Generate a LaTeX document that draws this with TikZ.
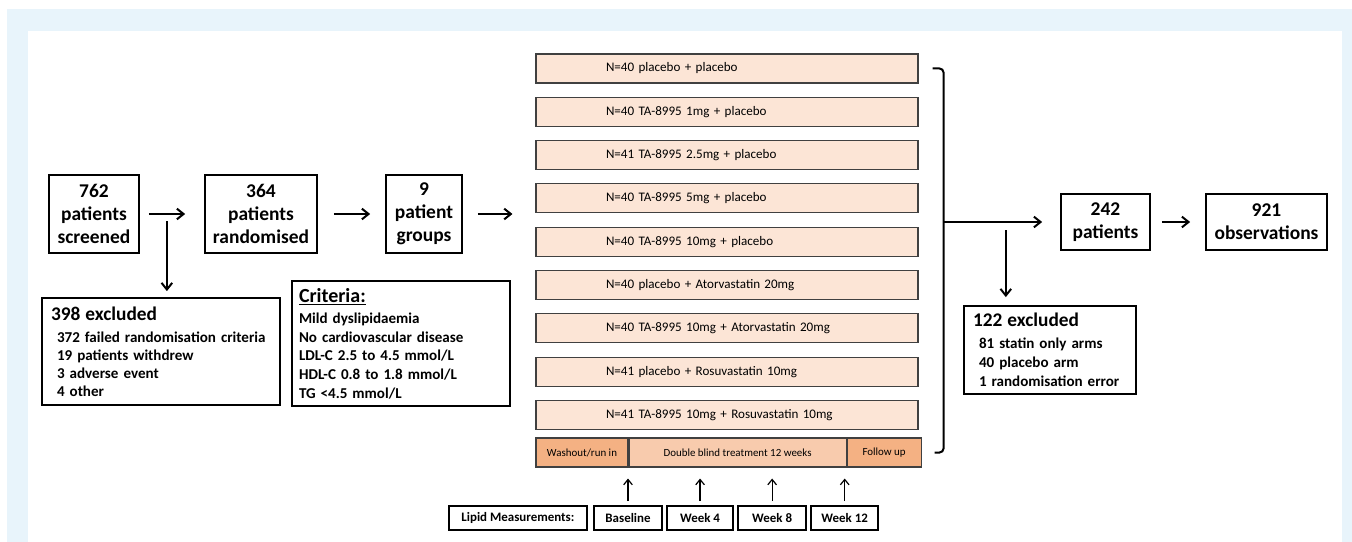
\documentclass[tikz,border=0pt]{standalone}
\usepackage{fontspec}
\setmainfont{Carlito}
\usetikzlibrary{arrows.meta,positioning,calc}
\definecolor{panelblue}{RGB}{232,244,251}
\definecolor{armfill}{RGB}{252,229,214}
\definecolor{armline}{RGB}{64,64,64}
\definecolor{phaselight}{RGB}{248,203,173}
\definecolor{phasedark}{RGB}{244,177,131}
\tikzset{
  mainbox/.style={draw, line width=1.3pt, align=center, inner sep=0pt, minimum height=58.5pt,
    font=\fontsize{14.6}{17.3}\selectfont\bfseries},
  listbox/.style={draw, line width=1.3pt, align=left, inner xsep=6.75pt, inner ysep=0pt,
    font=\fontsize{11.3}{13.5}\selectfont\bfseries},
  armbox/.style={draw=armline, fill=armfill, line width=0.8pt, align=left, inner xsep=3pt, inner ysep=0pt,
    text width=280.5pt, minimum height=21.75pt, font=\fontsize{9.8}{11}\selectfont},
  phase/.style={draw=armline, line width=0.8pt, inner sep=0pt, minimum height=21.75pt,
    font=\fontsize{8.2}{10}\selectfont},
  timebox/.style={draw, line width=1.3pt, inner sep=0pt, minimum height=18pt,
    font=\fontsize{9.7}{11}\selectfont\bfseries},
  flow/.style={line width=1.5pt, -{Straight Barb[length=5pt,width=8pt]}},
  tick/.style={line width=0.9pt, -{Straight Barb[length=4pt,width=6.5pt]}}
}
\begin{document}
\begin{tikzpicture}[x=0.75pt,y=0.75pt,yscale=-1,xscale=1]
\useasboundingbox (0,0) rectangle (1352,542);

%Panel background
\fill[panelblue] (7,9) rectangle (1352,542);
\fill[white] (28,31) rectangle (1342,542);

% Screening chain
\node[mainbox, minimum width=67.5pt] (scr) at (94,214) {762\\patients\\screened};
\node[mainbox, minimum width=84pt] (rnd) at (261,214) {364\\patients\\randomised};
\node[mainbox, minimum width=57pt] (grp) at (424,214) {9\\patient\\groups};

% Text Node
\node[listbox, text width=165pt, minimum height=80.25pt] (exc1) at (161,351.5)
  {{\fontsize{14.5}{16}\selectfont 398 excluded}\\[3pt]
   \hspace*{4.5pt}372 failed randomisation criteria\\
   \hspace*{4.5pt}19 patients withdrew\\
   \hspace*{4.5pt}3 adverse event\\
   \hspace*{4.5pt}4 other};
% Text Node
\node[listbox, inner xsep=5.25pt, text width=153pt, minimum height=93.75pt,
  font=\fontsize{11.3}{14}\selectfont\bfseries] (crit) at (401,343.5)
  {{\fontsize{15}{16}\selectfont\underline{Criteria:}}\\[2pt]
   Mild dyslipidaemia\\
   No cardiovascular disease\\
   LDL-C 2.5 to 4.5 mmol/L\\
   HDL-C 0.8 to 1.8 mmol/L\\
   TG <4.5 mmol/L};

% Treatment arms
\foreach \txt [count=\i] in {N=40 placebo + placebo, N=40 TA-8995 1mg + placebo,
    N=41 TA-8995 2.5mg + placebo, N=40 TA-8995 5mg + placebo, N=40 TA-8995 10mg + placebo,
    N=40 placebo + Atorvastatin 20mg, N=40 TA-8995 10mg + Atorvastatin 20mg,
    N=41 placebo + Rosuvastatin 10mg, N=41 TA-8995 10mg + Rosuvastatin 10mg}
  \node[armbox] (g\i) at (727,{25.2+43.3*\i}) {\hspace*{49.5pt}\txt};

% Study phases
\node[phase, fill=phasedark, minimum width=69pt] (wash) at (582,452.5) {Washout/run in};
\node[phase, fill=phaselight, minimum width=162.75pt, right=0pt of wash] (dbl) {Double blind treatment 12 weeks};
\node[phase, fill=phasedark, minimum width=55.5pt, right=0pt of dbl] (fol) {Follow up};

% Lipid measurements
\node[timebox, minimum width=51pt] (base) at (628,518) {Baseline};
\node[timebox, minimum width=103.5pt, left=4pt of base] (lipid) {Lipid Measurements:};
\node[timebox, minimum width=49.5pt, right=2.5pt of base] (wk4) {Week 4};
\node[timebox, minimum width=51pt, right=2.5pt of wk4] (wk8) {Week 8};
\node[timebox, minimum width=50.25pt, right=2.5pt of wk8] (wk12) {Week 12};
\foreach \m in {base,wk4,wk8,wk12}
  \draw[tick] ($(\m.north)+(0,-4)$) -- ($(\m.north |- dbl.south)+(0,11)$);

% Outcome
\node[mainbox, minimum width=66.75pt, minimum height=42pt] (pts) at (1105.5,222) {242\\patients};
\node[mainbox, minimum width=90.75pt, minimum height=42pt] (obs) at (1266.5,222) {921\\observations};
\node[listbox, text width=115.5pt, minimum height=66pt, font=\fontsize{11.3}{14.25}\selectfont\bfseries] (exc2) at (1050,350)
  {{\fontsize{14.5}{16}\selectfont 122 excluded}\\[2pt]
   \hspace*{4.5pt}81 statin only arms\\
   \hspace*{4.5pt}40 placebo arm\\
   \hspace*{4.5pt}1 randomisation error};

% Bracket
\coordinate (brtop) at ([xshift=10.5pt]g1.east);
\coordinate (brbot) at ([xshift=9.75pt]fol.east);
\coordinate (brmid) at ([xshift=8.25pt]brtop |- pts);
\draw[line width=1.5pt, rounded corners=3pt] (brtop) -| (brmid) |- (brbot);

% Arrows
\coordinate (split1) at ($(scr.east)!0.42!(rnd.west)$);
\coordinate (split2) at ($(brmid)!0.534!(pts.west)$);
\draw[flow, shorten <=6.75pt, shorten >=14.25pt] (scr) -- (rnd);
\draw[flow, shorten <=12pt, shorten >=11.25pt] (rnd) -- (grp);
\draw[flow, shorten <=11.25pt, shorten >=17.25pt] (grp) -- (grp -| g1.west);
\draw[flow, shorten >=4.5pt] ($(split1)+(0,7)$) -- (split1 |- exc1.north);
\draw[flow, shorten >=13.5pt] (brmid) -- (pts);
\draw[flow, shorten >=6pt] ($(split2)+(0,8)$) -- (split2 |- exc2.north);
\draw[flow, shorten <=8.25pt, shorten >=11.25pt] (pts) -- (obs);
\end{tikzpicture}
\end{document}
